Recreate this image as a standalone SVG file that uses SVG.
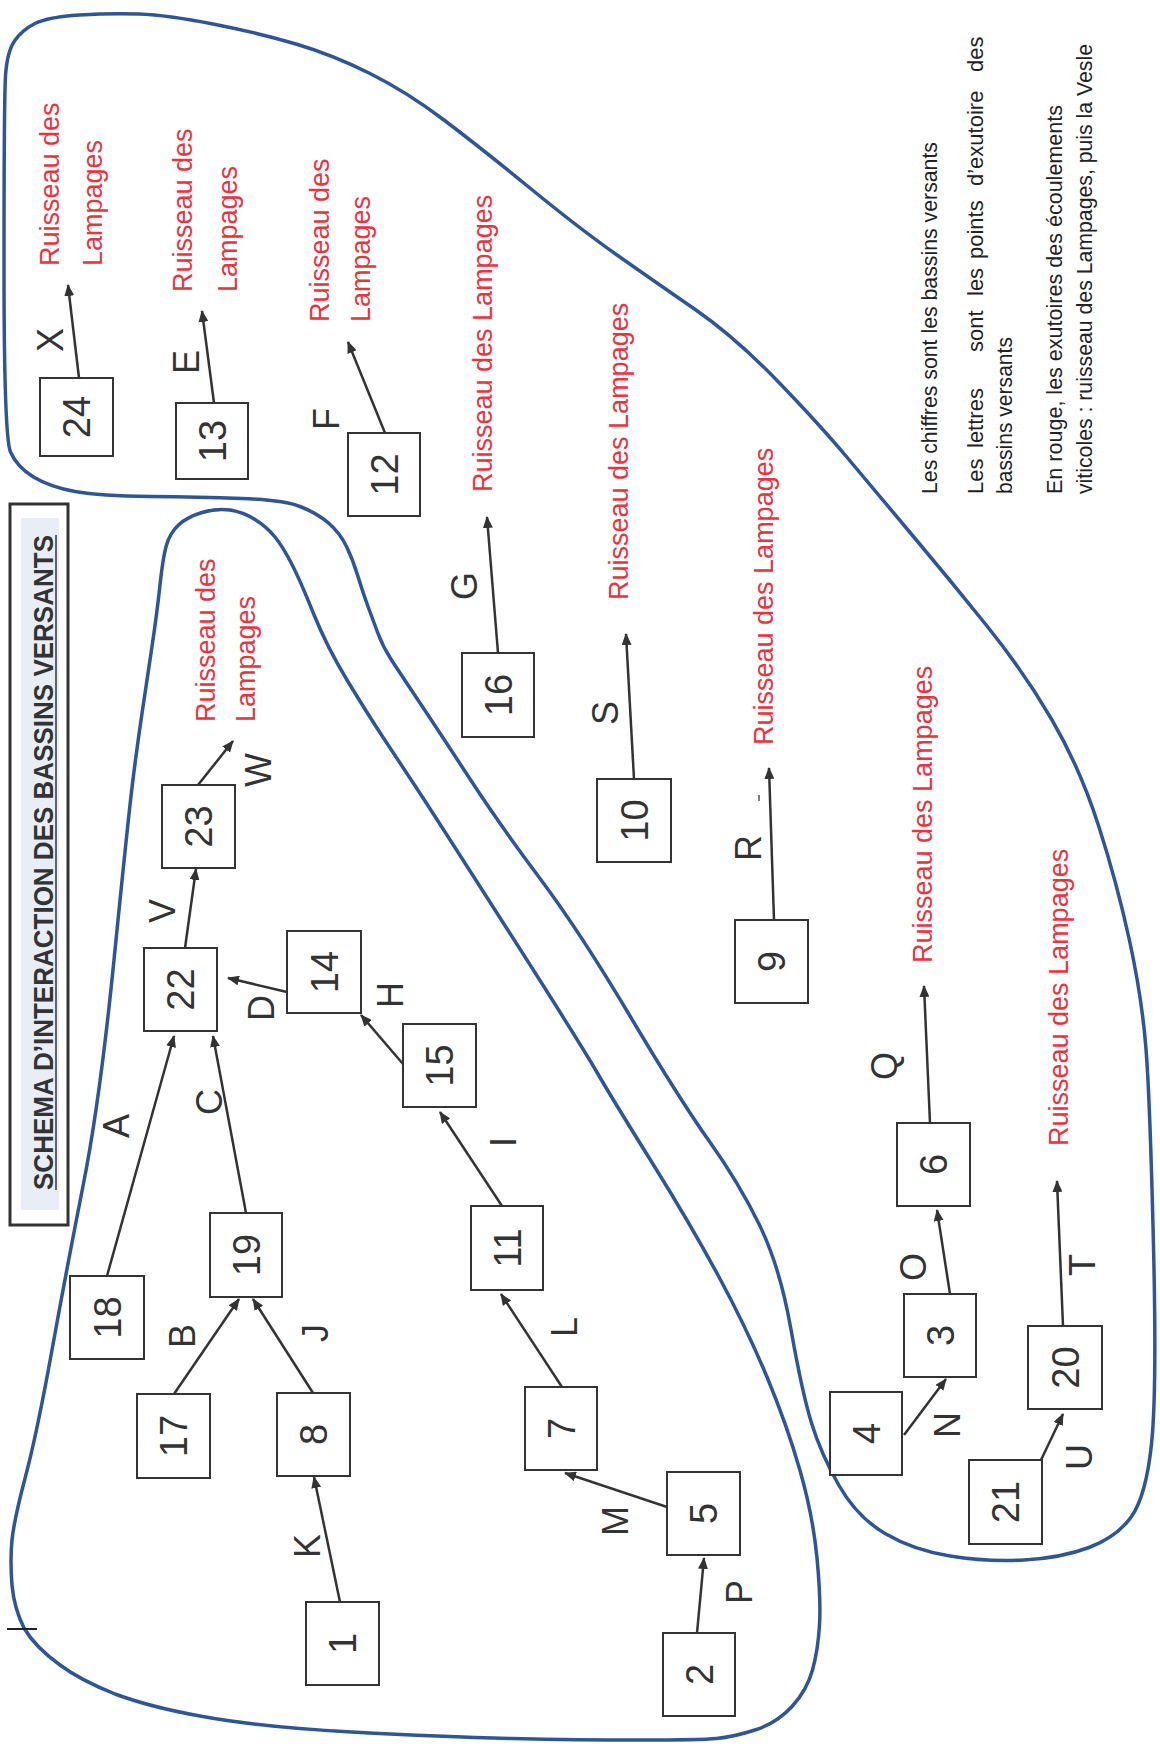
<svg xmlns="http://www.w3.org/2000/svg" width="1160" height="1753" viewBox="0 0 1160 1753">
<style>
.blob{fill:none;stroke:#2e5596;stroke-width:3.5;stroke-linejoin:round}
.box{fill:#fff;stroke:#333;stroke-width:2}
.num{font-family:"Liberation Sans",Arial,sans-serif;font-size:38px;fill:#333;text-anchor:middle}
.lab{font-family:"Liberation Sans",Arial,sans-serif;font-size:36px;fill:#333;text-anchor:middle}
.red{font-family:"Liberation Sans",Arial,sans-serif;font-size:27px;fill:#e8343f}
.leg{font-family:"Liberation Sans",Arial,sans-serif;font-size:22px;fill:#222}
.ttl{font-family:"Liberation Sans",Arial,sans-serif;font-size:28px;font-weight:bold;fill:#333}
.con line{stroke:#333;stroke-width:2.5;marker-end:url(#ah)}
</style>
<defs>
<marker id="ah" viewBox="0 0 12 10" refX="11" refY="5" markerWidth="12" markerHeight="10" orient="auto" markerUnits="userSpaceOnUse"><path d="M0,0 L12,5 L0,10 z" fill="#333"/></marker>
</defs>
<rect width="1160" height="1753" fill="#fff"/>
<g id="basins">
<path class="blob" d="M540,878.5 Q580,932 630,1016 Q680,1100 709.5,1141.5 Q739,1183 759.5,1225 Q780,1267 791,1329.5 Q802,1392 811.5,1423 Q821,1454 839,1485.5 Q857,1517 885,1533.5 Q913,1550 950,1556 Q987,1562 1024,1560 Q1061,1558 1089,1547.5 Q1117,1537 1131.5,1516.5 Q1146,1496 1151.5,1444 Q1157,1392 1153.5,1246 Q1150,1100 1146,1049 Q1142,998 1129.5,940.5 Q1117,883 1098.5,825.5 Q1080,768 1052,720 Q1024,672 987,626 Q950,580 913,536 Q876,492 848,458.5 Q820,425 777.5,381 Q735,337 694.5,309 Q654,281 617,255 Q580,229 530.5,188.5 Q481,148 444,120 Q407,92 370,73.5 Q333,55 296,44 Q259,33 213,24 Q167,15 139,14 Q111,13 79.5,15 Q48,17 35,23.5 Q22,30 14.5,41 Q7,52 5.5,76 Q4,100 4,268.5 Q4,437 10.5,452 Q17,467 33.5,477 Q50,487 75,491.5 Q100,496 150,496.5 Q200,497 241.5,498.5 Q283,500 300,506.5 Q317,513 328.5,523 Q340,533 346.5,546.5 Q353,560 358,576.5 Q363,593 368,606.5 Q373,620 378,633.5 Q383,647 391.5,660 Q400,673 420,703 Q440,733 470,779 Q500,825 540,878.5 Z"/>
<path class="blob" d="M202,512.5 Q217,508 230,510 Q243,512 255,519.5 Q267,527 275,537 Q283,547 291.5,563.5 Q300,580 313.5,613.5 Q327,647 347,680 Q367,713 383.5,738 Q400,763 416.5,788 Q433,813 506.5,928 Q580,1043 596.5,1071.5 Q613,1100 652,1162.5 Q691,1225 719,1277 Q747,1329 767,1377 Q787,1425 800,1470.5 Q813,1516 817,1558 Q821,1600 819.5,1625 Q818,1650 812.5,1670 Q807,1690 792,1706.5 Q777,1723 755,1730 Q733,1737 716.5,1738.5 Q700,1740 640,1740 Q580,1740 512,1738.5 Q444,1737 351.5,1732 Q259,1727 200,1716 Q150,1707 115,1694 Q80,1680 60,1665 Q35,1647 24,1628 Q14,1608 12,1585 Q10,1560 12,1540 Q14,1520 25.5,1476.5 Q37,1433 52,1350 Q67,1267 83.5,1183.5 Q100,1100 114,960 Q128,820 132.5,783.5 Q137,747 142,713.5 Q147,680 152,646.5 Q157,613 160,585 Q163,557 166.5,545 Q170,533 178.5,525 Q187,517 202,512.5 Z"/>
<line x1="7" y1="1629" x2="37" y2="1629" stroke="#222" stroke-width="2"/>
<line x1="759" y1="795" x2="759" y2="801" stroke="#555" stroke-width="1.5"/>
</g>
<g id="title">
<rect x="10" y="504" width="58" height="721" fill="#fff" stroke="#333" stroke-width="3"/>
<rect x="21" y="518" width="38" height="692" fill="#e9eef6"/>
<text class="ttl" transform="translate(53,1190) rotate(-90)" textLength="655" lengthAdjust="spacingAndGlyphs">SCHEMA D’INTERACTION DES BASSINS VERSANTS</text>
<line x1="56" y1="535" x2="56" y2="1190" stroke="#333" stroke-width="1.5"/>
</g>
<g id="legend">
<text class="leg" transform="translate(937,494) rotate(-90)" textLength="352" lengthAdjust="spacingAndGlyphs">Les chiffres sont les bassins versants</text>
<text class="leg" transform="translate(983,494) rotate(-90)"><tspan x="0">Les</tspan><tspan x="46">lettres</tspan><tspan x="142">sont</tspan><tspan x="198">les</tspan><tspan x="235">points</tspan><tspan x="308">d’exutoire</tspan><tspan x="422">des</tspan></text>
<text class="leg" transform="translate(1012,494) rotate(-90)" textLength="157" lengthAdjust="spacingAndGlyphs">bassins versants</text>
<text class="leg" transform="translate(1062,494) rotate(-90)" textLength="389" lengthAdjust="spacingAndGlyphs">En rouge, les exutoires des écoulements</text>
<text class="leg" transform="translate(1092,494) rotate(-90)" textLength="450" lengthAdjust="spacingAndGlyphs">viticoles : ruisseau des Lampages, puis la Vesle</text>
</g>
<g id="outlets">
<g id="out24"><text class="red" transform="translate(59,266) rotate(-90)">Ruisseau des</text><text class="red" transform="translate(102,266) rotate(-90)">Lampages</text></g>
<g id="out13"><text class="red" transform="translate(192,292) rotate(-90)">Ruisseau des</text><text class="red" transform="translate(237,292) rotate(-90)">Lampages</text></g>
<g id="out12"><text class="red" transform="translate(329,322) rotate(-90)">Ruisseau des</text><text class="red" transform="translate(370,322) rotate(-90)">Lampages</text></g>
<g id="out23"><text class="red" transform="translate(215,722) rotate(-90)">Ruisseau des</text><text class="red" transform="translate(255,722) rotate(-90)">Lampages</text></g>
<g id="out16"><text class="red" transform="translate(492,492) rotate(-90)">Ruisseau des Lampages</text></g>
<g id="out10"><text class="red" transform="translate(628,600) rotate(-90)">Ruisseau des Lampages</text></g>
<g id="out9"><text class="red" transform="translate(773,745) rotate(-90)">Ruisseau des Lampages</text></g>
<g id="out6"><text class="red" transform="translate(932,963) rotate(-90)">Ruisseau des Lampages</text></g>
<g id="out20"><text class="red" transform="translate(1068,1146) rotate(-90)">Ruisseau des Lampages</text></g>
</g>
<g id="connectors" class="con">
<line x1="79" y1="378" x2="68" y2="285"/>
<line x1="214" y1="403" x2="202" y2="311"/>
<line x1="385" y1="433" x2="348" y2="342"/>
<line x1="498" y1="653" x2="487" y2="517"/>
<line x1="634" y1="779" x2="626" y2="634"/>
<line x1="774" y1="920" x2="769" y2="768"/>
<line x1="930" y1="1123" x2="924" y2="986"/>
<line x1="950" y1="1294" x2="937" y2="1210"/>
<line x1="904" y1="1435" x2="946" y2="1379"/>
<line x1="1063" y1="1326" x2="1057" y2="1181"/>
<line x1="1041" y1="1460" x2="1063" y2="1414"/>
<line x1="697" y1="1633" x2="704" y2="1558"/>
<line x1="667" y1="1507" x2="565" y2="1473"/>
<line x1="562" y1="1387" x2="501" y2="1294"/>
<line x1="502" y1="1206" x2="440" y2="1112"/>
<line x1="403" y1="1064" x2="361" y2="1015"/>
<line x1="287" y1="992" x2="228" y2="978"/>
<line x1="185" y1="948" x2="196" y2="869"/>
<line x1="198" y1="785" x2="233" y2="741"/>
<line x1="107" y1="1276" x2="174" y2="1036"/>
<line x1="246" y1="1213" x2="213" y2="1036"/>
<line x1="174" y1="1394" x2="239" y2="1299"/>
<line x1="313" y1="1393" x2="253" y2="1299"/>
<line x1="340" y1="1602" x2="314" y2="1477"/>
</g>
<g id="connector-labels">
<text class="lab" transform="translate(50,340) rotate(-90)" dy=".36em">X</text>
<text class="lab" transform="translate(186,362) rotate(-90)" dy=".36em">E</text>
<text class="lab" transform="translate(326,419) rotate(-90)" dy=".36em">F</text>
<text class="lab" transform="translate(464,586) rotate(-90)" dy=".36em">G</text>
<text class="lab" transform="translate(605,713) rotate(-90)" dy=".36em">S</text>
<text class="lab" transform="translate(748,848) rotate(-90)" dy=".36em">R</text>
<text class="lab" transform="translate(884,1066) rotate(-90)" dy=".36em">Q</text>
<text class="lab" transform="translate(913,1267) rotate(-90)" dy=".36em">O</text>
<text class="lab" transform="translate(947,1425) rotate(-90)" dy=".36em">N</text>
<text class="lab" transform="translate(1082,1265) rotate(-90)" dy=".36em">T</text>
<text class="lab" transform="translate(1079,1457) rotate(-90)" dy=".36em">U</text>
<text class="lab" transform="translate(739,1592) rotate(-90)" dy=".36em">P</text>
<text class="lab" transform="translate(615,1521) rotate(-90)" dy=".36em">M</text>
<text class="lab" transform="translate(258,770) rotate(-90)" dy=".36em">W</text>
<text class="lab" transform="translate(162,911) rotate(-90)" dy=".36em">V</text>
<text class="lab" transform="translate(261,1008) rotate(-90)" dy=".36em">D</text>
<text class="lab" transform="translate(390,995) rotate(-90)" dy=".36em">H</text>
<text class="lab" transform="translate(116,1126) rotate(-90)" dy=".36em">A</text>
<text class="lab" transform="translate(209,1102) rotate(-90)" dy=".36em">C</text>
<text class="lab" transform="translate(182,1336) rotate(-90)" dy=".36em">B</text>
<text class="lab" transform="translate(315,1333) rotate(-90)" dy=".36em">J</text>
<text class="lab" transform="translate(307,1546) rotate(-90)" dy=".36em">K</text>
<text class="lab" transform="translate(503,1142) rotate(-90)" dy=".36em">I</text>
<text class="lab" transform="translate(564,1327) rotate(-90)" dy=".36em">L</text>
</g>
<g id="nodes">
<g id="n24"><rect class="box" x="40" y="378" width="73" height="78"/><text class="num" transform="translate(76.5,417) rotate(-90)" dy=".36em">24</text></g>
<g id="n13"><rect class="box" x="176" y="403" width="72" height="76"/><text class="num" transform="translate(212,441) rotate(-90)" dy=".36em">13</text></g>
<g id="n12"><rect class="box" x="348" y="433" width="72" height="83"/><text class="num" transform="translate(384,474.5) rotate(-90)" dy=".36em">12</text></g>
<g id="n16"><rect class="box" x="462" y="653" width="72" height="84"/><text class="num" transform="translate(498,695) rotate(-90)" dy=".36em">16</text></g>
<g id="n23"><rect class="box" x="162" y="785" width="73" height="83"/><text class="num" transform="translate(198.5,826.5) rotate(-90)" dy=".36em">23</text></g>
<g id="n22"><rect class="box" x="144" y="948" width="73" height="83"/><text class="num" transform="translate(180.5,989.5) rotate(-90)" dy=".36em">22</text></g>
<g id="n14"><rect class="box" x="287" y="931" width="74" height="82"/><text class="num" transform="translate(324,972) rotate(-90)" dy=".36em">14</text></g>
<g id="n15"><rect class="box" x="403" y="1024" width="73" height="83"/><text class="num" transform="translate(439.5,1065.5) rotate(-90)" dy=".36em">15</text></g>
<g id="n18"><rect class="box" x="70" y="1276" width="74" height="83"/><text class="num" transform="translate(107,1317.5) rotate(-90)" dy=".36em">18</text></g>
<g id="n19"><rect class="box" x="210" y="1213" width="72" height="84"/><text class="num" transform="translate(246,1255) rotate(-90)" dy=".36em">19</text></g>
<g id="n17"><rect class="box" x="137" y="1394" width="73" height="84"/><text class="num" transform="translate(173.5,1436) rotate(-90)" dy=".36em">17</text></g>
<g id="n8"><rect class="box" x="277" y="1393" width="73" height="83"/><text class="num" transform="translate(313.5,1434.5) rotate(-90)" dy=".36em">8</text></g>
<g id="n1"><rect class="box" x="306" y="1602" width="73" height="83"/><text class="num" transform="translate(342.5,1643.5) rotate(-90)" dy=".36em">1</text></g>
<g id="n11"><rect class="box" x="471" y="1206" width="72" height="84"/><text class="num" transform="translate(507,1248) rotate(-90)" dy=".36em">11</text></g>
<g id="n7"><rect class="box" x="525" y="1387" width="72" height="83"/><text class="num" transform="translate(561,1428.5) rotate(-90)" dy=".36em">7</text></g>
<g id="n5"><rect class="box" x="667" y="1472" width="73" height="83"/><text class="num" transform="translate(703.5,1513.5) rotate(-90)" dy=".36em">5</text></g>
<g id="n2"><rect class="box" x="663" y="1633" width="72" height="83"/><text class="num" transform="translate(699,1674.5) rotate(-90)" dy=".36em">2</text></g>
<g id="n10"><rect class="box" x="597" y="779" width="74" height="83"/><text class="num" transform="translate(634,820.5) rotate(-90)" dy=".36em">10</text></g>
<g id="n9"><rect class="box" x="735" y="920" width="73" height="83"/><text class="num" transform="translate(771.5,961.5) rotate(-90)" dy=".36em">9</text></g>
<g id="n6"><rect class="box" x="897" y="1123" width="73" height="83"/><text class="num" transform="translate(933.5,1164.5) rotate(-90)" dy=".36em">6</text></g>
<g id="n3"><rect class="box" x="904" y="1294" width="72" height="83"/><text class="num" transform="translate(940,1335.5) rotate(-90)" dy=".36em">3</text></g>
<g id="n4"><rect class="box" x="830" y="1392" width="72" height="83"/><text class="num" transform="translate(866,1433.5) rotate(-90)" dy=".36em">4</text></g>
<g id="n20"><rect class="box" x="1028" y="1326" width="74" height="83"/><text class="num" transform="translate(1065,1367.5) rotate(-90)" dy=".36em">20</text></g>
<g id="n21"><rect class="box" x="969" y="1460" width="73" height="84"/><text class="num" transform="translate(1005.5,1502) rotate(-90)" dy=".36em">21</text></g>
</g>
</svg>
